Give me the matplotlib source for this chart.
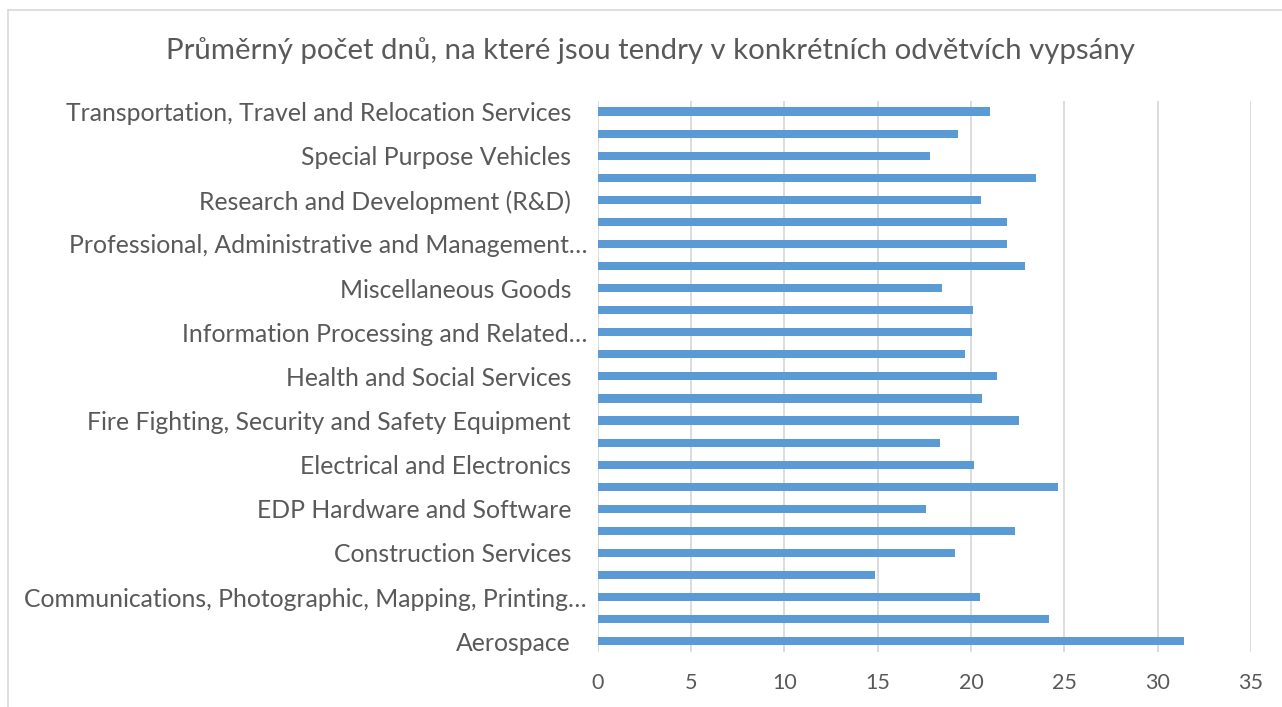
import matplotlib
matplotlib.use("Agg")
import matplotlib.pyplot as plt
from matplotlib.lines import Line2D
import matplotlib.transforms as mtransforms

# Categories from bottom (Aerospace) to top (Transportation)
categories = [
    "Aerospace",
    "Armament",
    "Communications, Photographic, Mapping, Printing…",
    "Construction Products",
    "Construction Services",
    "Custodial Operations and Related Services",
    "EDP Hardware and Software",
    "Education and Training Services",
    "Electrical and Electronics",
    "Energy",
    "Fire Fighting, Security and Safety Equipment",
    "Food",
    "Health and Social Services",
    "Industrial Equipment",
    "Information Processing and Related…",
    "Marine",
    "Miscellaneous Goods",
    "Operation of Government-Owned Facilities",
    "Professional, Administrative and Management…",
    "Quality Control, Testing, Inspection…",
    "Research and Development (R&D)",
    "Shipbuilding",
    "Special Purpose Vehicles",
    "Textiles and Apparel",
    "Transportation, Travel and Relocation Services",
]
values = [
    31.4, 24.16, 20.49, 14.85, 19.17, 22.35, 17.58, 24.69, 20.16, 18.35,
    22.55, 20.60, 21.40, 19.69, 20.07, 20.09, 18.44, 22.89, 21.94, 21.94,
    20.55, 23.46, 17.80, 19.32, 21.01,
]
# Only every second label is shown (Excel label skipping)
shown_labels = [c if i % 2 == 0 else "" for i, c in enumerate(categories)]
x_ticks = [0, 5, 10, 15, 20, 25, 30, 35]
title = "Průměrný počet dnů, na které jsou tendry v konkrétních odvětvích vypsány"

plt.rcParams['font.family'] = ['Lato', 'DejaVu Sans']
text_color = "#595959"
grid_color = "#d9d9d9"
bar_color = "#5b9bd5"

W, H = 1282, 707
fig = plt.figure(figsize=(W / 100, H / 100), dpi=100)
ax = fig.add_axes([597.5 / W, 1 - 652.3 / H, (1251 - 597.5) / W, (652.3 - 100.5) / H])

ypos = list(range(len(categories)))
ax.barh(ypos, values, height=0.37, color=bar_color, zorder=3)

ax.set_xlim(0, 35)
ax.set_ylim(-0.5, len(categories) - 0.5)
ax.set_xticks(x_ticks)
ax.set_xticklabels([str(t) for t in x_ticks])
ax.set_yticks(ypos)
ax.set_yticklabels(shown_labels)
ax.tick_params(axis='y', length=0, pad=19, labelsize=17.8, labelcolor=text_color)
ax.tick_params(axis='x', length=0, pad=15, labelsize=15.5, labelcolor=text_color)
ax.grid(axis='x', color=grid_color, linewidth=1.3, zorder=0)
for s in ax.spines.values():
    s.set_visible(False)

# truncated labels (ending in an ellipsis) sit closer to the axis, as in Excel
shift = mtransforms.ScaledTranslation(16 / 100, 0, fig.dpi_scale_trans)
for lab in ax.get_yticklabels():
    if lab.get_text().endswith("…"):
        lab.set_transform(lab.get_transform() + shift)

fig.text(650 / W, 1 - 51 / H, title, ha='center', va='center',
         fontsize=21.2, color=text_color)

# chart border (partially cropped in the reference)
fig.add_artist(Line2D([7.5 / W, 7.5 / W], [0, 1 - 9.5 / H], color=grid_color, lw=1.2,
                      transform=fig.transFigure))
fig.add_artist(Line2D([7.5 / W, 1], [1 - 9.5 / H, 1 - 9.5 / H], color=grid_color, lw=1.2,
                      transform=fig.transFigure))

fig.savefig("out.png", dpi=100)
